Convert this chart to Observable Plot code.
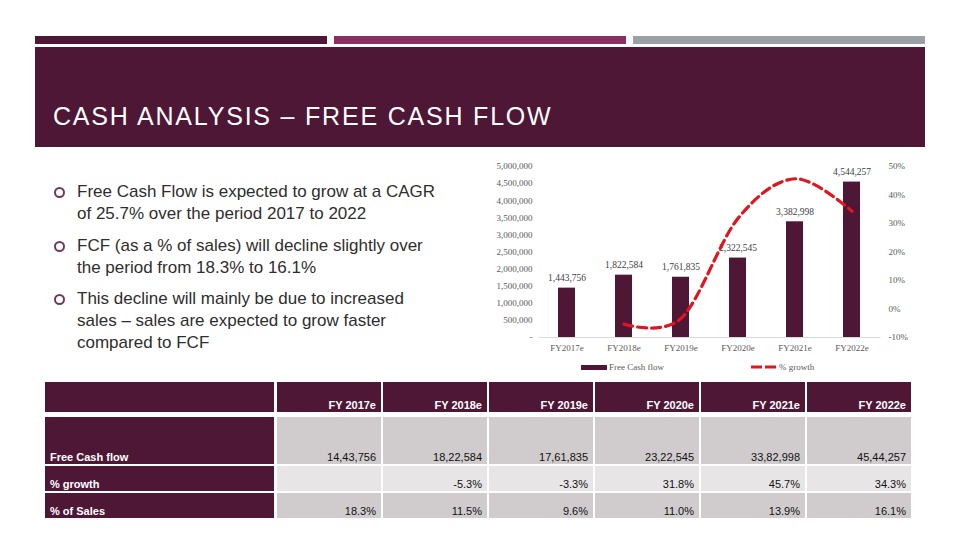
<!DOCTYPE html>
<html>
<head>
<meta charset="utf-8">
<script src="https://cdn.jsdelivr.net/npm/d3@7"></script>
<script src="https://cdn.jsdelivr.net/npm/@observablehq/plot@0.6"></script>
<style>
  html, body { margin: 0; padding: 0; background: #fff; }
  #page { position: relative; width: 960px; height: 540px; overflow: hidden; font-family: "Liberation Sans", Arial, sans-serif; }
  .abs { position: absolute; }
  .bullet-text { position: absolute; left: 77px; font-size: 17px; line-height: 22px; color: #2e2e2e; white-space: nowrap; }
  .bullet-dot { position: absolute; left: 54px; width: 7px; height: 7px; border: 2px solid #6B3A5E; border-radius: 50%; }
  .cell { position: absolute; box-sizing: border-box; display: flex; align-items: flex-end; justify-content: flex-end; padding-right: 5px; padding-bottom: 1px; font-size: 11px; line-height: 11px; overflow: hidden; white-space: nowrap; }
  .lab { justify-content: flex-start; padding-left: 5px; color: #fff; font-weight: bold; }
  .legend-text { position: absolute; font-family: "Liberation Serif", serif; font-size: 9px; color: #595959; line-height: 10px; }
</style>
</head>
<body>
<div id="page"></div>
<script>
// ---------- data ----------
const categories = ["FY2017e", "FY2018e", "FY2019e", "FY2020e", "FY2021e", "FY2022e"];
const tableHeaders = ["FY 2017e", "FY 2018e", "FY 2019e", "FY 2020e", "FY 2021e", "FY 2022e"];
const freeCashFlow = [1443756, 1822584, 1761835, 2322545, 3382998, 4544257];
const growthPct = [null, -5.3, -3.3, 31.8, 45.7, 34.3];
const salesPct = [18.3, 11.5, 9.6, 11.0, 13.9, 16.1];
const leftTicks = [0, 500000, 1000000, 1500000, 2000000, 2500000, 3000000, 3500000, 4000000, 4500000, 5000000];
const rightTicks = [-10, 0, 10, 20, 30, 40, 50];
const rowLabels = ["Free Cash flow", "% growth", "% of Sales"];
const titleText = "CASH ANALYSIS \u2013 FREE CASH FLOW";
const bullets = [
  ["Free Cash Flow is expected to grow at a CAGR", "of 25.7% over the period 2017 to 2022"],
  ["FCF (as a % of sales) will decline slightly over", "the period from 18.3% to 16.1%"],
  ["This decline will mainly be due to increased", "sales \u2013 sales are expected to grow faster", "compared to FCF"]
];
const legendLabels = ["Free Cash flow", "% growth"];

// ---------- colours ----------
const maroon = "#4E1735";
const red = "#E0161E";

const page = document.getElementById("page");
function add(html) { page.insertAdjacentHTML("beforeend", html); }

// top stripes & title band
add(`<div class="abs" style="left:35px;top:36px;width:292px;height:8px;background:${maroon}"></div>`);
add(`<div class="abs" style="left:334px;top:36px;width:292px;height:8px;background:#8B2E62"></div>`);
add(`<div class="abs" style="left:633px;top:36px;width:292px;height:8px;background:#9AA1A6"></div>`);
add(`<div class="abs" style="left:35px;top:47px;width:890px;height:100px;background:${maroon}"></div>`);
add(`<div class="abs" style="left:53px;top:101px;font-size:25px;line-height:30px;color:#fff;letter-spacing:1.8px;white-space:nowrap;font-family:'Liberation Sans',Arial,sans-serif;">${titleText}</div>`);

// bullets
const bulletTops = [181, 235, 288];
bullets.forEach((lines, i) => {
  add(`<div class="bullet-dot" style="top:${bulletTops[i] + 6}px"></div>`);
  add(`<div class="bullet-text" style="top:${bulletTops[i]}px">${lines.join("<br>")}</div>`);
});

// ---------- chart ----------
const fmtComma = d3.format(",");
const toY = p => (p + 10) / 60 * 5000000;
const fromY = v => v / 5000000 * 60 - 10;
const barData = categories.map((c, i) => ({cat: c, fcf: freeCashFlow[i]}));
const lineData = categories.map((c, i) => ({cat: c, g: growthPct[i]})).filter(d => d.g != null);

const chart = Plot.plot({
  width: 470,
  height: 230,
  marginLeft: 58.5,
  marginRight: 69.5,
  marginTop: 16,
  marginBottom: 43,
  style: {fontFamily: "'Liberation Serif', serif", fontSize: "9px", color: "#595959", background: "transparent", overflow: "visible"},
  x: {domain: categories, paddingInner: 0.7, paddingOuter: 0.35, label: null},
  y: {domain: [0, 5000000], label: null},
  marks: [
    Plot.barY(barData, {x: "cat", y: "fcf", fill: maroon}),
    Plot.ruleY([0], {stroke: "#d9d9d9", strokeWidth: 1}),
    Plot.text(barData, {x: "cat", y: "fcf", text: d => fmtComma(d.fcf), dy: -10, fill: "#404040", fontSize: 9.5}),
    Plot.line(lineData, {x: "cat", y: d => toY(d.g), curve: "cardinal", tension: 0, stroke: red, strokeWidth: 3.2, strokeDasharray: "9,5"}),
    Plot.axisY(leftTicks, {anchor: "left", tickSize: 0, tickPadding: 6.5, tickFormat: v => v === 0 ? "-" : fmtComma(v), label: null}),
    Plot.axisY(rightTicks.map(toY), {anchor: "right", tickSize: 0, tickPadding: 7.5, tickFormat: v => `${Math.round(fromY(v))}%`, label: null}),
    Plot.axisX({tickSize: 0, tickPadding: 7, label: null})
  ]
});
chart.style.position = "absolute";
chart.style.left = "480px";
chart.style.top = "150px";
page.appendChild(chart);

// legend
add(`<div class="abs" style="left:581px;top:365px;width:26px;height:5px;background:${maroon}"></div>`);
add(`<div class="legend-text" style="left:609px;top:362px">${legendLabels[0]}</div>`);
add(`<svg class="abs" style="left:751px;top:363px" width="27" height="8"><line x1="0" y1="4" x2="27" y2="4" stroke="${red}" stroke-width="3" stroke-dasharray="11,3"/></svg>`);
add(`<div class="legend-text" style="left:779px;top:362px">${legendLabels[1]}</div>`);

// ---------- table ----------
const indian = d3.formatLocale({decimal: ".", thousands: ",", grouping: [3, 2], currency: ["", ""]}).format(",");
const colStarts = [277, 383, 489, 595, 701, 807];
const colW = 104;
const rows = [
  {top: 382, h: 30},
  {top: 417, h: 47},
  {top: 466, h: 25},
  {top: 493, h: 25}
];
const rowFills = [maroon, "#D0CCCE", "#E7E5E6", "#D0CCCE"];
const rowTexts = [
  tableHeaders,
  freeCashFlow.map(v => indian(v)),
  growthPct.map(v => v == null ? "" : `${v.toFixed(1)}%`),
  salesPct.map(v => `${v.toFixed(1)}%`)
];
rows.forEach((r, ri) => {
  add(`<div class="cell lab" style="left:45px;top:${r.top}px;width:229px;height:${r.h}px;background:${maroon}">${ri === 0 ? "" : rowLabels[ri - 1]}</div>`);
  colStarts.forEach((x, ci) => {
    const isHead = ri === 0;
    add(`<div class="cell" style="left:${x}px;top:${r.top}px;width:${colW}px;height:${r.h}px;background:${rowFills[ri]};color:${isHead ? "#fff" : "#111"};font-weight:${isHead ? "bold" : "normal"}">${rowTexts[ri][ci]}</div>`);
  });
});
</script>
</body>
</html>
